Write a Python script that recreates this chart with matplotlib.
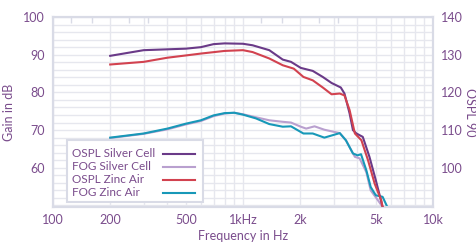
import matplotlib
matplotlib.use("Agg")
import matplotlib.pyplot as plt
from matplotlib.ticker import FixedLocator, NullFormatter, MultipleLocator
from matplotlib.patches import Rectangle
from matplotlib.lines import Line2D

# ---- data ----
freq_ospl_silver = [200, 300, 500, 600, 700, 800, 1000, 1123, 1375, 1619, 1789, 2014, 2329, 2629, 2925,
                    3271, 3420, 3640, 3790, 3954, 4270, 4630, 5000, 5210, 5430]
ospl_silver = [129.7, 131.2, 131.6, 132.0, 132.8, 133.0, 132.9, 132.5, 131.2, 128.7, 128.1, 126.5, 125.7,
               124.1, 122.5, 121.3, 119.7, 114.4, 110.0, 109.1, 108.2, 102.9, 96.7, 93.2, 89.6]

freq_ospl_zinc = [200, 300, 400, 500, 600, 800, 1000, 1123, 1375, 1619, 1850, 2080, 2329, 2629, 2925,
                  3230, 3420, 3640, 3880, 4200, 4550, 4930, 5340, 5430]
ospl_zinc = [127.4, 128.1, 129.2, 129.8, 130.3, 131.0, 131.2, 130.7, 129.0, 127.2, 126.3, 124.1, 123.2,
             121.3, 119.5, 119.7, 119.2, 115.3, 109.1, 107.3, 102.0, 95.8, 91.4, 89.6]

freq_fog_zinc = [200, 300, 400, 500, 600, 700, 800, 900, 1000, 1170, 1375, 1619, 1789, 2014, 2080, 2329,
                 2680, 3230, 3480, 3790, 4010, 4180, 4460, 4700, 5000, 5430, 5750]
fog_zinc = [68.0, 69.1, 70.4, 71.7, 72.6, 73.9, 74.5, 74.6, 74.1, 73.1, 71.6, 70.9, 71.0, 69.5, 69.1, 69.1,
            68.0, 69.2, 67.3, 63.8, 63.3, 63.6, 59.3, 54.9, 52.7, 52.3, 49.6]

freq_fog_silver = [200, 300, 400, 500, 600, 700, 800, 900, 1000, 1170, 1375, 1619, 1789, 2014, 2150, 2380,
                   2680, 3230, 3480, 3880, 4110, 4460, 4700, 5130, 5430]
fog_silver = [67.9, 69.0, 70.2, 71.5, 72.4, 73.7, 74.4, 74.6, 74.2, 73.4, 72.6, 72.2, 72.0, 70.9, 70.4, 71.0,
              70.1, 69.2, 67.3, 62.9, 62.5, 58.8, 54.0, 51.4, 49.6]

series_labels = ["OSPL Silver Cell", "FOG Silver Cell", "OSPL Zinc Air", "FOG Zinc Air"]
x_ticks = [100, 200, 500, 1000, 2000, 5000, 10000]
x_labels = ["100", "200", "500", "1kHz", "2k", "5k", "10k"]
top_ticks = [125, 160, 250, 315, 1250, 1600, 2500, 3150]
left_ticks = [60, 70, 80, 90, 100]
right_ticks = [100, 110, 120, 130, 140]

# ---- style ----
txt = "#7a4c8c"
frame = "#d9dbe6"
gridc = "#e6e7ee"
c_ospl_silver = "#6a3a88"
c_fog_silver = "#b9a0cf"
c_ospl_zinc = "#d2424f"
c_fog_zinc = "#1798b8"
plt.rcParams['font.family'] = ['Lato', 'DejaVu Sans']

W, H = 476, 242
fig = plt.figure(figsize=(W / 100, H / 100), dpi=100)
ax = fig.add_axes([53 / W, 1 - 207 / H, 380 / W, 190 / H])
ax2 = ax.twinx()

ax.set_xscale('log')
ax.set_xlim(100, 10000)
ax.set_ylim(49.6, 100)
ax2.set_ylim(89.6, 140)

ax.yaxis.set_minor_locator(MultipleLocator(2))
ax.set_yticks(left_ticks)
ax2.set_yticks(right_ticks)
ax.set_xticks(x_ticks)
ax.set_xticklabels(x_labels)
ax.xaxis.set_minor_formatter(NullFormatter())

ax.grid(True, which='both', color=gridc, linewidth=1.0)
ax.set_axisbelow(True)

for a in (ax, ax2):
    for s in a.spines.values():
        s.set_color(frame)
        s.set_linewidth(1.5)
ax.tick_params(axis='both', which='both', length=0, colors=txt, labelsize=9)
ax.tick_params(axis='y', pad=6)
ax.tick_params(axis='x', pad=5)
ax2.tick_params(axis='y', length=0, colors=txt, labelsize=9, pad=6)

# top third-octave ticks
sec = ax.secondary_xaxis('top')
sec.set_xticks(top_ticks)
sec.xaxis.set_minor_locator(FixedLocator([]))
sec.tick_params(axis='x', which='major', direction='in', length=4, width=1, color=frame,
                labeltop=False)
sec.spines['top'].set_visible(False)

lw = 1.5
series = [
    (ax2, freq_ospl_silver, ospl_silver, c_ospl_silver, 4),
    (ax, freq_fog_silver, fog_silver, c_fog_silver, 3),
    (ax2, freq_ospl_zinc, ospl_zinc, c_ospl_zinc, 5),
    (ax, freq_fog_zinc, fog_zinc, c_fog_zinc, 4),
]
for (a, f, v, c, z), lab in zip(series, series_labels):
    a.plot(f, v, color=c, lw=lw, label=lab, zorder=z)

ax.set_ylabel("Gain in dB", color=txt, fontsize=9, labelpad=6)
ax.set_xlabel("Frequency in Hz", color=txt, fontsize=9, labelpad=3)
ax2.set_ylabel("OSPL 90", color=txt, fontsize=9, rotation=270, labelpad=9)

# ---- legend (text left, line right) ----
def fx(px):
    return px / W

def fy(py):
    return 1 - py / H

box = Rectangle((fx(67), fy(202)), fx(203) - fx(67), fy(140) - fy(202), transform=fig.transFigure,
                facecolor='white', edgecolor=frame, linewidth=1.5, zorder=10)
fig.patches.append(box)
rows_y = [153.5, 166.5, 179.5, 192.5]
for (a, f, v, c, z), lab, ry in zip(series, series_labels, rows_y):
    fig.text(fx(72), fy(ry), lab, color=txt, fontsize=8.5, ha='left', va='center', zorder=11)
    fig.lines.append(Line2D([fx(163), fx(195)], [fy(ry), fy(ry)], transform=fig.transFigure,
                            color=c, lw=lw, zorder=11))

fig.savefig("out.png", dpi=100)
